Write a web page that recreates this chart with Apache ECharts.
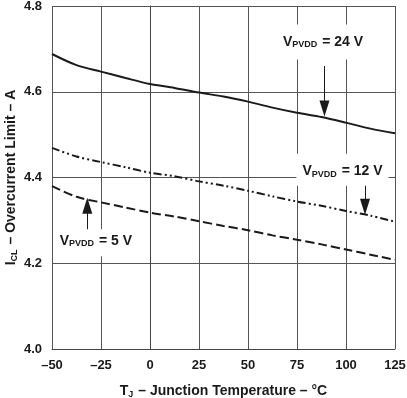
<!DOCTYPE html>
<html>
<head>
<meta charset="utf-8">
<script src="https://cdn.jsdelivr.net/npm/echarts@6/dist/echarts.min.js"></script>
<style>
  html, body { margin: 0; padding: 0; background: #fff; }
  #chart { width: 407px; height: 398px; }
</style>
</head>
<body>
<div id="chart"></div>
<script>
// junction temperature, degC
const temps = [-50, -37.5, -25, -12.5, 0, 12.5, 25, 37.5, 50, 62.5, 75, 87.5, 100, 112.5, 125];
// overcurrent limit, A
const v24 = [4.688, 4.662, 4.647, 4.632, 4.618, 4.609, 4.598, 4.589, 4.577, 4.563, 4.551, 4.541, 4.528, 4.514, 4.503];
const v12 = [4.469, 4.449, 4.436, 4.424, 4.411, 4.403, 4.391, 4.381, 4.369, 4.356, 4.344, 4.334, 4.322, 4.311, 4.297];
const v5 = [4.380, 4.355, 4.342, 4.330, 4.318, 4.309, 4.298, 4.287, 4.277, 4.265, 4.255, 4.244, 4.232, 4.220, 4.208];

const xTicks = [-50, -25, 0, 25, 50, 75, 100, 125];
const yTicks = [4.0, 4.2, 4.4, 4.6, 4.8];

// annotations: [temp, value]
const label24 = [88.3, 4.716];
const arrow24 = [[89, 4.660], [89, 4.561]];
const label12 = [98.2, 4.418];
const arrow12 = [[109.7, 4.394], [109.7, 4.332]];
const label5 = [-27.6, 4.248];
const arrow5 = [[-32, 4.278], [-32, 4.334]];

const ink = '#1a1a1a';
const font = '"Liberation Sans", Arial, sans-serif';

function pair(xs, ys) {
  return xs.map((x, i) => [x, ys[i]]);
}

function vLabel(text) {
  return '{v|V}{s|PVDD}{v| = ' + text + '}';
}

const richV = {
  v: { fontFamily: font, fontWeight: 'bold', fontSize: 14, color: ink },
  s: { fontFamily: font, fontWeight: 'bold', fontSize: 9, color: ink, padding: [6, 1, 0, 0] }
};

function note(pos, text, pad) {
  return {
    silent: true,
    symbol: 'rect',
    symbolSize: 1,
    itemStyle: { color: 'rgba(0,0,0,0)' },
    label: {
      show: true,
      position: 'inside',
      formatter: vLabel(text),
      backgroundColor: '#fff',
      padding: pad,
      rich: richV
    },
    data: [{ coord: pos }]
  };
}

function arrow(pts) {
  return {
    silent: true,
    symbol: ['none', 'triangle'],
    symbolSize: [10, 16],
    lineStyle: { color: ink, width: 1, type: 'solid' },
    label: { show: false },
    data: [[{ coord: pts[0] }, { coord: pts[1] }]]
  };
}

const chart = echarts.init(document.getElementById('chart'));
chart.setOption({
  animation: false,
  backgroundColor: '#fff',
  grid: { left: 52, right: 12, top: 6, bottom: 49, outerBoundsMode: 'none' },
  xAxis: {
    type: 'value',
    min: xTicks[0],
    max: xTicks[xTicks.length - 1],
    interval: 25,
    name: '{v|T}{s|J}{v| \u2013 Junction Temperature \u2013 \u00B0C}',
    nameLocation: 'middle',
    nameGap: 35,
    nameMoveOverlap: false,
    nameTextStyle: { rich: richV },
    axisLine: { show: true, lineStyle: { color: '#444', width: 1 } },
    axisTick: { show: false },
    axisLabel: {
      margin: 10,
      fontFamily: font, fontWeight: 'bold', fontSize: 13, color: ink,
      formatter: v => String(v).replace('-', '\u2013')
    },
    splitLine: { show: true, lineStyle: { color: '#555', width: 1 } }
  },
  yAxis: {
    type: 'value',
    min: yTicks[0],
    max: yTicks[yTicks.length - 1],
    interval: 0.2,
    name: '{v|I}{s|CL}{v| \u2013 Overcurrent Limit \u2013 A}',
    nameLocation: 'middle',
    nameGap: 33,
    nameMoveOverlap: false,
    nameTextStyle: { rich: richV },
    axisLine: { show: true, lineStyle: { color: '#444', width: 1 } },
    axisTick: { show: false },
    axisLabel: {
      margin: 10,
      fontFamily: font, fontWeight: 'bold', fontSize: 13, color: ink,
      formatter: v => v.toFixed(1)
    },
    splitLine: { show: true, lineStyle: { color: '#555', width: 1 } }
  },
  series: [
    {
      name: 'VPVDD = 24 V',
      type: 'line',
      data: pair(temps, v24),
      showSymbol: false,
      smooth: 0.3,
      lineStyle: { color: ink, width: 2 },
      markPoint: note(label24, '24 V', [10, 5, 10, 5]),
      markLine: arrow(arrow24)
    },
    {
      name: 'VPVDD = 12 V',
      type: 'line',
      data: pair(temps, v12),
      showSymbol: false,
      smooth: 0.3,
      lineStyle: { color: ink, width: 2, type: [8, 3, 2, 3, 2, 3] },
      markPoint: note(label12, '12 V', [10, 6, 7, 6]),
      markLine: arrow(arrow12)
    },
    {
      name: 'VPVDD = 5 V',
      type: 'line',
      data: pair(temps, v5),
      showSymbol: false,
      smooth: 0.3,
      lineStyle: { color: ink, width: 2, type: [9, 4] },
      markPoint: note(label5, '5 V', [4, 4, 8, 4]),
      markLine: arrow(arrow5)
    }
  ]
});
</script>
</body>
</html>
